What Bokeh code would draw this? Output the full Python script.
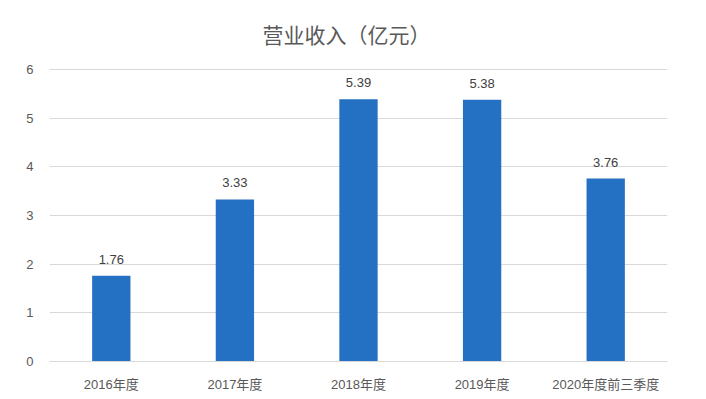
from bokeh.plotting import figure
from bokeh.models import ColumnDataSource, Range1d, FixedTicker, LabelSet
from bokeh.core.properties import value
from bokeh.embed import file_html
from bokeh.resources import INLINE

categories = ["2016年度", "2017年度", "2018年度", "2019年度", "2020年度前三季度"]
revenue = [1.76, 3.33, 5.39, 5.38, 3.76]
labels = ["1.76", "3.33", "5.39", "5.38", "3.76"]
y_ticks = [0, 1, 2, 3, 4, 5, 6]
title_text = ["营业收入（亿元）"]
title_cat = ["2018年度"]

FONT = "Liberation Sans, Noto Sans CJK SC, sans-serif"
GRAY = "#595959"

src = ColumnDataSource(dict(cat=categories, val=revenue, lab=labels))

# frame extends above the top gridline so the title can sit inside it
p = figure(x_range=categories, y_range=Range1d(0, 7.212), width=706, height=399,
           output_backend="svg", toolbar_location=None,
           min_border_left=49, min_border_right=39, min_border_top=10, min_border_bottom=38)
p.frame_width = 618
p.frame_height = 351

p.vbar(x="cat", top="val", width=0.31, source=src, color="#2470c3", line_color=None)

p.add_layout(LabelSet(x="cat", y="val", text="lab", source=src, text_align="center",
                      text_baseline="bottom", y_offset=12, text_font_size="13px",
                      text_color="#404040", text_font=value(FONT)))

p.text(x=title_cat, y=[6.739], text=title_text, x_offset=-12,
       text_align="center", text_baseline="middle",
       text_font=value("Noto Sans CJK SC"), text_font_size="21px", text_color=GRAY)

p.outline_line_color = None
p.xgrid.grid_line_color = None
p.ygrid.grid_line_color = "#d9d9d9"
p.ygrid.grid_line_width = 1

p.yaxis.ticker = FixedTicker(ticks=y_ticks)
p.yaxis.axis_line_color = None
p.yaxis.major_tick_line_color = None
p.yaxis.minor_tick_line_color = None
p.yaxis.major_label_text_font = FONT
p.yaxis.major_label_text_font_size = "13px"
p.yaxis.major_label_text_color = GRAY
p.yaxis.major_label_standoff = 10

p.xaxis.axis_line_color = "#d9d9d9"
p.xaxis.major_tick_line_color = None
p.xaxis.minor_tick_line_color = None
p.xaxis.major_label_text_font = FONT
p.xaxis.major_label_text_font_size = "13px"
p.xaxis.major_label_text_color = GRAY
p.xaxis.major_label_standoff = 9
p.x_range.range_padding = 0

open("out.html", "w").write(file_html(p, INLINE))
